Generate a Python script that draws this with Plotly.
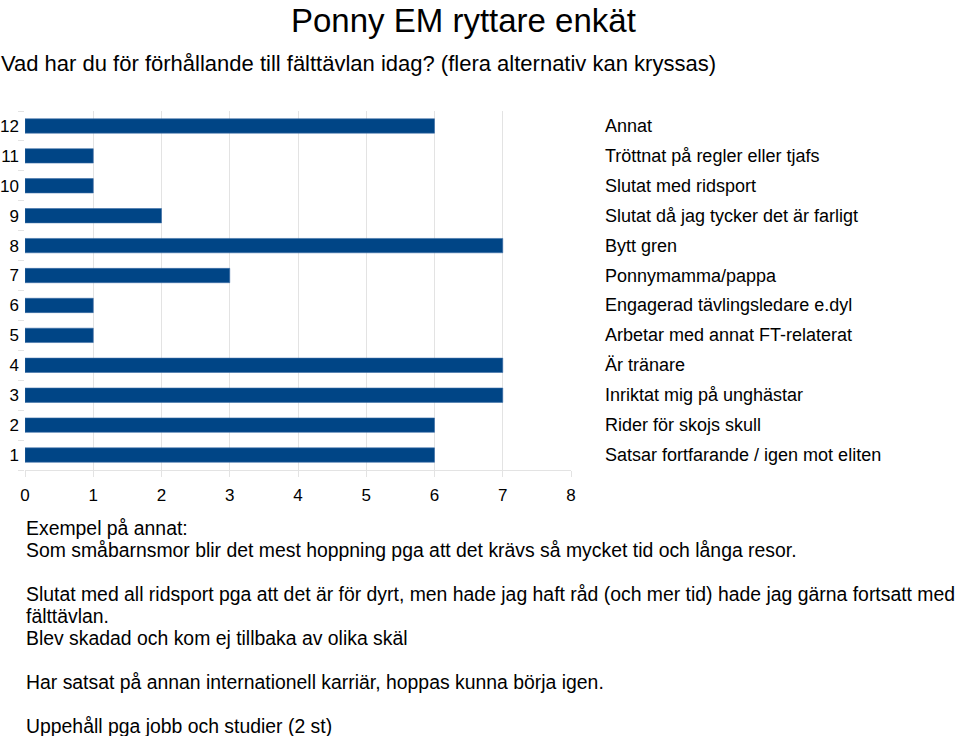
import plotly.graph_objects as go

categories = ["1", "2", "3", "4", "5", "6", "7", "8", "9", "10", "11", "12"]
values = [6, 6, 7, 7, 1, 1, 3, 7, 2, 1, 1, 6]
labels = [
    "Satsar fortfarande / igen mot eliten",
    "Rider för skojs skull",
    "Inriktat mig på unghästar",
    "Är tränare",
    "Arbetar med annat FT-relaterat",
    "Engagerad tävlingsledare e.dyl",
    "Ponnymamma/pappa",
    "Bytt gren",
    "Slutat då jag tycker det är farligt",
    "Slutat med ridsport",
    "Tröttnat på regler eller tjafs",
    "Annat",
]
x_ticks = [0, 1, 2, 3, 4, 5, 6, 7, 8]

title = "Ponny EM ryttare enkät"
subtitle = "Vad har du för förhållande till fälttävlan idag? (flera alternativ kan kryssas)"
notes = [
    "Exempel på annat:",
    "Som småbarnsmor blir det mest hoppning pga att det krävs så mycket tid och långa resor.",
    "",
    "Slutat med all ridsport pga att det är för dyrt, men hade jag haft råd (och mer tid) hade jag gärna fortsatt med",
    "fälttävlan.",
    "Blev skadad och kom ej tillbaka av olika skäl",
    "",
    "Har satsat på annan internationell karriär, hoppas kunna börja igen.",
    "",
    "Uppehåll pga jobb och studier (2 st)",
]

W, H = 960, 736
SANS = "Liberation Sans, Arial, sans-serif"
TICKF = "Liberation Sans Narrow, Arial Narrow, Liberation Sans, Arial, sans-serif"


def px(x):
    return x / W


def py(y):
    return 1 - y / H


fig = go.Figure()
fig.add_trace(go.Bar(
    x=values, y=categories, orientation="h", width=0.48,
    marker=dict(color="#004586", line=dict(color="#3d6fa8", width=0.6)),
    hoverinfo="x+y",
))

for idx, lab in enumerate(labels):
    fig.add_annotation(x=px(603), xref="paper", y=idx, yref="y", text=lab,
                       showarrow=False, xanchor="left", yanchor="middle",
                       font=dict(family=SANS, size=18, color="#000000"))

fig.add_annotation(x=px(463), y=1, xref="paper", yref="paper", text=title,
                   showarrow=False, xanchor="center", yanchor="top",
                   font=dict(family=SANS, size=33, color="#000000"))
fig.add_annotation(x=px(-1), y=py(64), xref="paper", yref="paper", text=subtitle,
                   showarrow=False, xanchor="left", yanchor="middle",
                   font=dict(family=SANS, size=22, color="#000000"))

y0 = 528
for i, line in enumerate(notes):
    if not line:
        continue
    fig.add_annotation(x=px(24), y=py(y0 + i * 22), xref="paper", yref="paper",
                       text=line, showarrow=False, xanchor="left", yanchor="middle",
                       font=dict(family=SANS, size=19.4, color="#000000"))

fig.update_layout(
    width=W, height=H,
    margin=dict(l=0, r=0, t=0, b=0, autoexpand=False),
    paper_bgcolor="white", plot_bgcolor="white",
    showlegend=False,
    xaxis=dict(domain=[px(25), px(571)], range=[0, 8], tickvals=x_ticks,
               automargin=False,
               showgrid=True, gridcolor="#e3e3e3", gridwidth=1,
               zeroline=False, showline=True, linecolor="#e3e3e3", linewidth=1,
               ticks="outside", ticklen=6, tickcolor="#e3e3e3",
               ticklabelstandoff=4,
               tickfont=dict(family=TICKF, size=17, color="#000000"),
               fixedrange=True),
    yaxis=dict(domain=[py(470), py(111)], type="category",
               categoryorder="array", categoryarray=categories,
               range=[-0.5, 11.5], tickson="boundaries", automargin=False,
               showgrid=False, zeroline=False, showline=False,
               ticks="outside", ticklen=6, tickcolor="#e3e3e3",
               ticklabelstandoff=5,
               tickfont=dict(family=TICKF, size=17, color="#000000"),
               fixedrange=True),
)

fig.write_html("out.html", config={"displayModeBar": False},
               post_script="document.body.style.margin='0';document.body.style.overflow='hidden';")
